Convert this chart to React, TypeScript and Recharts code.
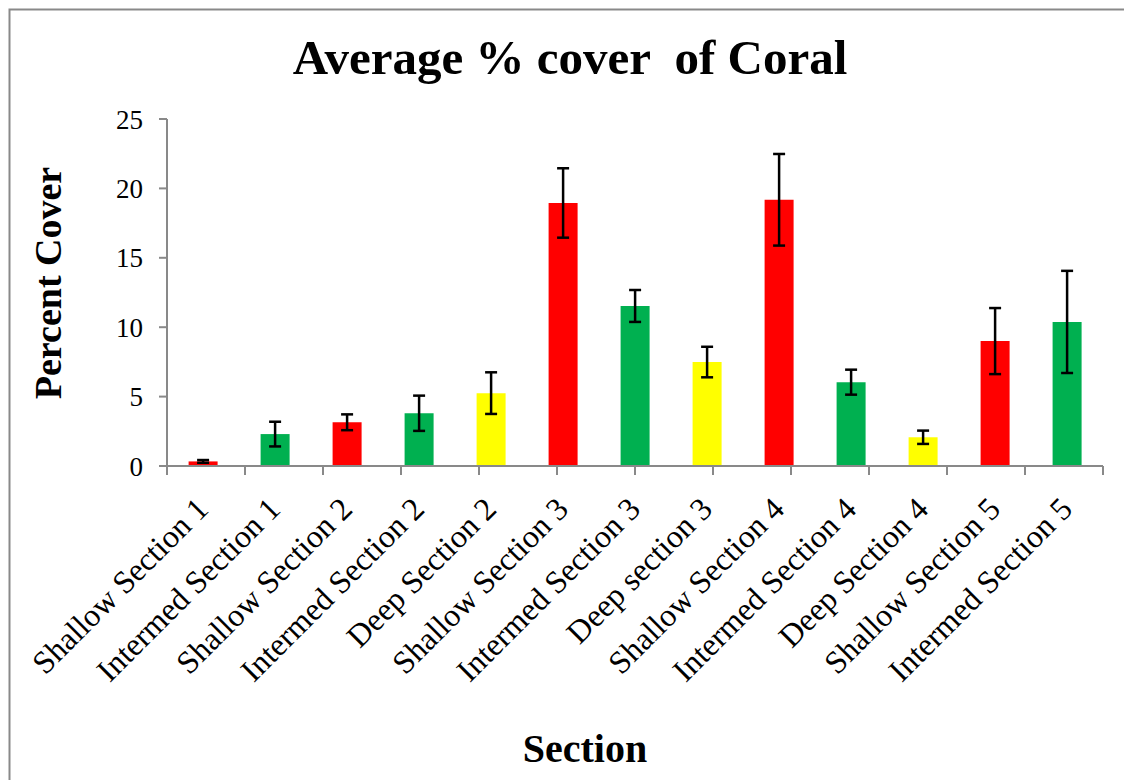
import React from 'react';
import { BarChart, Bar, XAxis, YAxis, Cell, ErrorBar } from 'recharts';

const categories = [
  'Shallow Section 1',
  'Intermed Section 1',
  'Shallow Section 2',
  'Intermed Section 2',
  'Deep Section 2',
  'Shallow Section 3',
  'Intermed Section 3',
  'Deep section 3',
  'Shallow Section 4',
  'Intermed Section 4',
  'Deep Section 4',
  'Shallow Section 5',
  'Intermed Section 5',
];
const coverValues = [0.33, 2.3, 3.15, 3.8, 5.25, 18.95, 11.53, 7.49, 19.18, 6.04, 2.07, 9.0, 10.38];
const coverErrors = [0.1, 0.89, 0.57, 1.27, 1.5, 2.5, 1.15, 1.1, 3.3, 0.9, 0.48, 2.38, 3.68];
const depthZones = ['Shallow', 'Intermed', 'Shallow', 'Intermed', 'Deep', 'Shallow', 'Intermed', 'Deep', 'Shallow', 'Intermed', 'Deep', 'Shallow', 'Intermed'];
const zoneColors: Record<string, string> = { Shallow: '#FF0000', Intermed: '#00B050', Deep: '#FFFF00' };
const yTicks = [0, 5, 10, 15, 20, 25];
const boundaryTicks = [0, 1, 2, 3, 4, 5, 6, 7, 8, 9, 10, 11, 12, 13];

const data = categories.map((name, i) => ({
  name,
  value: coverValues[i],
  err: coverErrors[i],
  zone: depthZones[i],
}));

const AXIS = '#898989';
const SERIF = '"Liberation Serif", "Times New Roman", serif';

const CategoryTick = (props: any) => {
  const { x, y, payload } = props;
  const ax = x + 7;
  const ay = y + 44;
  return (
    <text
      x={ax}
      y={ay}
      textAnchor="end"
      transform={`rotate(-45, ${ax}, ${ay})`}
      fontFamily={SERIF}
      fontSize={32}
      fill="#000"
    >
      {payload.value}
    </text>
  );
};

const EmptyTick = () => <g />;

export default function App() {
  return (
    <div style={{ position: 'absolute', left: 0, top: 0, width: 1124, height: 780, background: '#fff', overflow: 'hidden' }}>
      <BarChart
        width={1124}
        height={780}
        data={data}
        margin={{ top: 119, right: 21, bottom: 0, left: 0 }}
        barCategoryGap="30%"
      >
        <XAxis
          xAxisId="a_grid"
          type="number"
          domain={[0, 13]}
          ticks={boundaryTicks}
          interval={0}
          tick={<EmptyTick />}
          tickSize={9}
          height={1}
          allowDataOverflow
          axisLine={{ stroke: AXIS, strokeWidth: 2 }}
          tickLine={{ stroke: AXIS, strokeWidth: 2 }}
        />
        <XAxis
          xAxisId="b_cat"
          dataKey="name"
          type="category"
          height={313}
          interval={0}
          tickSize={0}
          tickMargin={0}
          axisLine={false}
          tickLine={false}
          tick={<CategoryTick />}
        />
        <YAxis
          width={167}
          domain={[0, 25]}
          ticks={yTicks}
          interval={0}
          tickSize={8}
          tickMargin={16}
          axisLine={{ stroke: AXIS, strokeWidth: 2 }}
          tickLine={{ stroke: AXIS, strokeWidth: 2 }}
          tick={{ fill: '#000', fontFamily: SERIF, fontSize: 27 }}
        />
        <Bar dataKey="value" xAxisId="b_cat" isAnimationActive={false}>
          {data.map((d, i) => (
            <Cell key={i} fill={zoneColors[d.zone]} />
          ))}
          <ErrorBar dataKey="err" width={6} strokeWidth={2.5} stroke="#000" isAnimationActive={false} />
        </Bar>
      </BarChart>
      <svg
        width={1124}
        height={780}
        style={{ position: 'absolute', left: 0, top: 0, pointerEvents: 'none' }}
      >
        <rect x={9.5} y={9.5} width={1300} height={900} fill="none" stroke={AXIS} strokeWidth={2} />
        <text
          x={570}
          y={74}
          textAnchor="middle"
          fontFamily={SERIF}
          fontWeight="bold"
          fontSize={49}
          fill="#000"
          style={{ whiteSpace: 'pre' }}
          xmlSpace="preserve"
        >
          {'Average % cover  of Coral'}
        </text>
        <text
          x={61}
          y={283}
          textAnchor="middle"
          transform="rotate(-90, 61, 283)"
          fontFamily={SERIF}
          fontWeight="bold"
          fontSize={38}
          fill="#000"
        >
          Percent Cover
        </text>
        <text x={585} y={762} textAnchor="middle" fontFamily={SERIF} fontWeight="bold" fontSize={40} fill="#000">
          Section
        </text>
      </svg>
    </div>
  );
}
